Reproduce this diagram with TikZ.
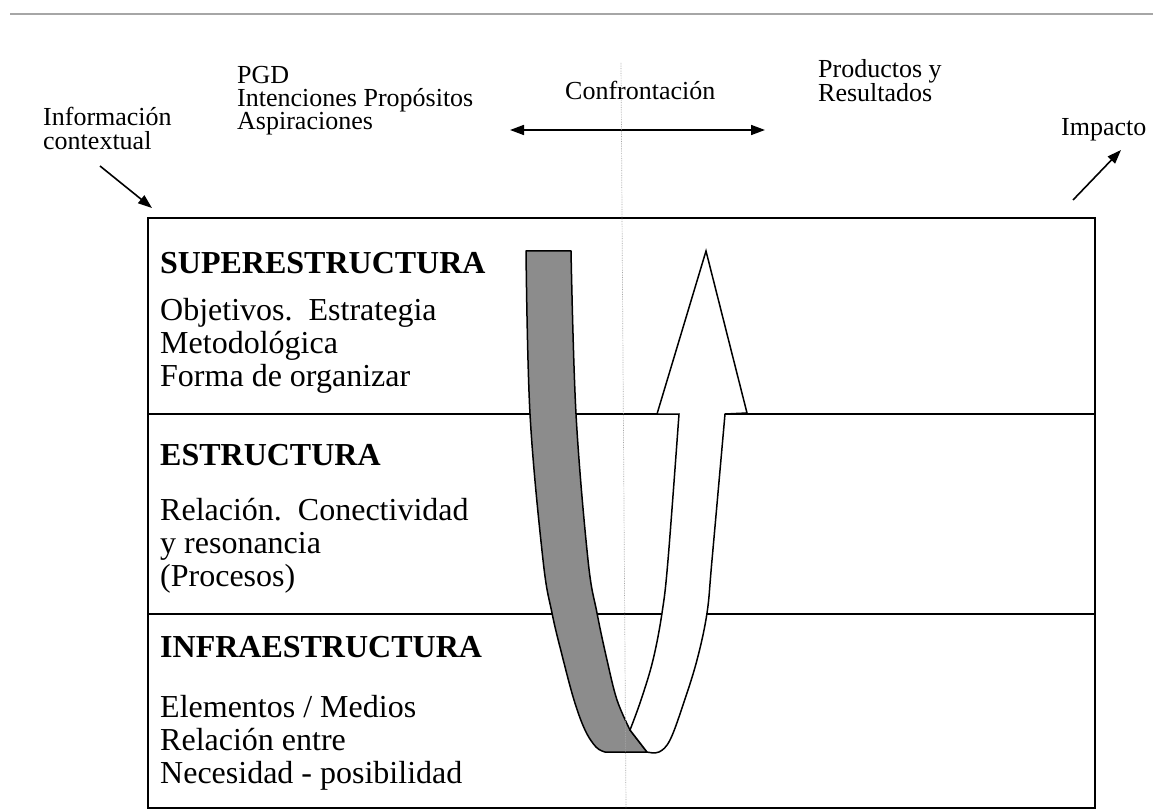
\documentclass[tikz,border=0pt]{standalone}
\usepackage{fontspec}
\setmainfont{Liberation Serif}
\usetikzlibrary{arrows.meta}
\tikzset{
  lbl/.style={font=\fontsize{26}{23}\selectfont, inner sep=0pt, anchor=base west},
  bodytxt/.style={font=\fontsize{32}{33}\selectfont, inner sep=0pt, anchor=base west},
  headtxt/.style={font=\fontsize{32}{33}\selectfont\bfseries, inner sep=0pt, anchor=base west},
  frameline/.style={line width=1.5pt, black},
  arrowline/.style={line width=1.6pt, -{Triangle[length=14pt,width=10pt]}},
  dblarrow/.style={line width=1.6pt, {Triangle[length=14pt,width=10pt]}-{Triangle[length=14pt,width=10pt]}},
  ribbonback/.style={fill=black!45, draw=black, line width=1.5pt, line join=round},
  ribbonfront/.style={fill=white, draw=black, line width=1.5pt, line join=miter},
  guideline/.style={densely dotted, gray!70, line width=0.7pt},
  rule/.style={gray!70, line width=1.1pt}
}
\begin{document}
\begin{tikzpicture}[x=1pt,y=-1pt]
\useasboundingbox (0,0) rectangle (1153,810);
\fill[white] (0,0) rectangle (1153,810);

% top rule
\coordinate (ruleL) at (10,14);
\coordinate (ruleR) at (1153,14);
\draw[rule] (ruleL) -- (ruleR);

% top labels
\node[lbl] (info1) at (43,126) {Información};
\node[lbl] (info2) at (43,150) {contextual};
\node[lbl] (pgd1) at (237,84) {PGD};
\node[lbl] (pgd2) at (237,107) {Intenciones Propósitos};
\node[lbl] (pgd3) at (237,130) {Aspiraciones};
\node[lbl] (conf) at (565,100) {Confrontación};
\node[lbl] (prod1) at (818,78) {Productos y};
\node[lbl] (prod2) at (818,102) {Resultados};
\node[lbl] (imp) at (1061,136) {Impacto};

% arrows at top
\coordinate (infoS) at (100,166);
\coordinate (infoE) at (152,208);
\draw[arrowline] (infoS) -- (infoE);
\coordinate (confL) at (510,130);
\coordinate (confR) at (765,130);
\draw[dblarrow] (confL) -- (confR);
\coordinate (impS) at (1073,200);
\coordinate (impE) at (1121,150);
\draw[arrowline] (impS) -- (impE);

% box and dividers
\coordinate (boxTL) at (148,218);
\coordinate (boxBR) at (1095,808);
\draw[frameline] (boxTL) rectangle (boxBR);
\coordinate (d1L) at (148,414);
\coordinate (d1R) at (1095,414);
\coordinate (d2L) at (148,614);
\coordinate (d2R) at (1095,614);
\draw[frameline] (d1L) -- (d1R);
\draw[frameline] (d2L) -- (d2R);

% section texts
\node[headtxt] (sup) at (160,273) {SUPERESTRUCTURA};
\node[bodytxt] (sup1) at (160,320) {Objetivos.\ \ Estrategia};
\node[bodytxt] (sup2) at (160,353) {Metodológica};
\node[bodytxt] (sup3) at (160,386) {Forma de organizar};

\node[headtxt] (est) at (160,465) {ESTRUCTURA};
\node[bodytxt] (est1) at (160,520) {Relación.\ \ Conectividad};
\node[bodytxt] (est2) at (160,553) {y resonancia};
\node[bodytxt] (est3) at (160,586) {(Procesos)};

\node[headtxt] (inf) at (160,657) {INFRAESTRUCTURA};
\node[bodytxt] (inf1) at (160,717) {Elementos / Medios};
\node[bodytxt] (inf2) at (160,750) {Relación entre};
\node[bodytxt] (inf3) at (160,783) {Necesidad - posibilidad};

% U-shaped ribbon: back (grey) part
\path[ribbonback] (526,251) -- (571,251)
  -- plot[smooth, tension=0.6] coordinates {(571,251) (576,414) (588,560) (597,613) (607,660) (617,700) (630,730)}
  -- (647,752)
  -- plot[smooth, tension=0.6] coordinates {(605,752) (596,747) (585,730) (574,700) (562,655) (552,613) (543,560) (530,414) (526,251)}
  -- cycle;

% front (white) part with arrowhead
\path[ribbonfront] (630,730) -- (647,752)
  -- plot[smooth, tension=0.6] coordinates {(647,752) (659,752) (670,740) (683,705) (697,660) (707,613) (712,560) (725,414)}
  -- (747,413) -- (706,251) -- (657,414)
  -- plot[smooth, tension=0.6] coordinates {(679,414) (668,560) (662,613) (653,660) (641,700) (630,730)}
  -- cycle;

% dotted vertical guide
\coordinate (gT) at (621,63);
\coordinate (gB) at (626,808);
\draw[guideline] (gT) -- (gB);
\end{tikzpicture}
\end{document}
